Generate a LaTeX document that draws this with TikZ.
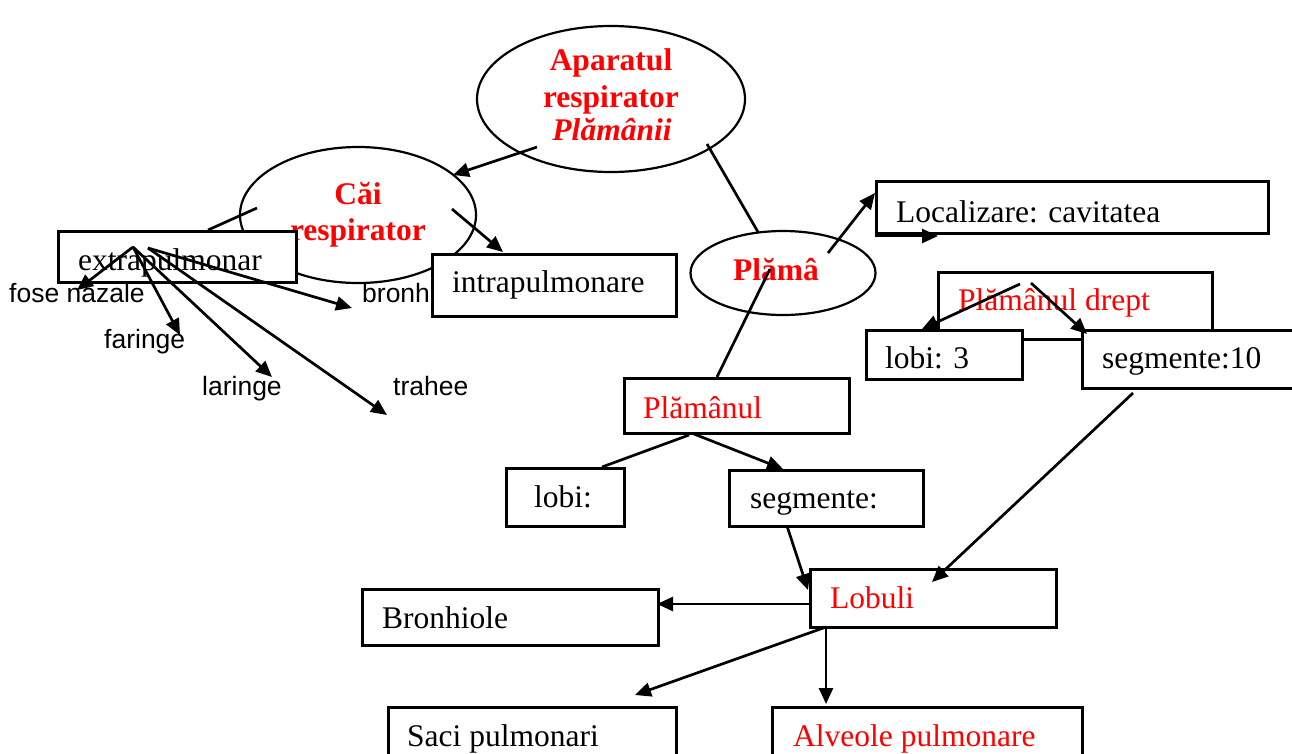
\documentclass[tikz,border=0pt]{standalone}
\usepackage{fontspec}
\setmainfont{Liberation Serif}
\newfontfamily\labelfont{Liberation Sans}
\usetikzlibrary{arrows.meta,shapes.geometric}
\definecolor{hdred}{RGB}{255,0,0}
\tikzset{
  box/.style={draw, line width=2.5pt, fill=white, rectangle, inner sep=0pt, anchor=north west},
  oval/.style={draw, line width=2.2pt, ellipse, inner sep=0pt},
  txt/.style={anchor=base west, inner sep=0pt, font=\fontsize{31.5}{36}\selectfont},
  redtxt/.style={txt, text=hdred},
  headtxt/.style={anchor=base, inner sep=0pt, text=hdred, font=\fontsize{31.5}{36}\selectfont\bfseries},
  lbl/.style={anchor=base west, inner sep=0pt, font=\labelfont\fontsize{26.5}{30}\selectfont},
  conn/.style={line width=2.7pt},
  arr/.style={conn, -{Triangle[length=16pt,width=14pt]}},
}
\begin{document}
\begin{tikzpicture}[x=1pt,y=-1pt]
  \useasboundingbox (0,0) rectangle (1292,753);
  \clip (0,0) rectangle (1292,753);
  \fill[white] (0,0) rectangle (1292,753);

  % --- ellipses -------------------------------------------------------
  \node[oval, minimum width=268pt, minimum height=146pt] (ap) at (611,99) {};
  \node[headtxt] (ap-t1) at (611,70) {Aparatul};
  \node[headtxt] (ap-t2) at (611,107) {respirator};
  \node[headtxt, font=\fontsize{31.5}{36}\selectfont\bfseries\itshape] (ap-t3) at (612,140) {Plămânii};

  \node[oval, minimum width=236pt, minimum height=136pt] (cai) at (358,215) {};
  \node[headtxt] (cai-t1) at (358,204) {Căi};
  \node[headtxt] (cai-t2) at (358,240) {respirator};

  \node[oval, minimum width=185pt, minimum height=84pt] (plama) at (783,273) {};
  \node[headtxt] (plama-t) at (776,280) {Plămâ};

  % --- airway labels ---------------------------------------------------
  \node[lbl] (fose) at (9,302) {fose nazale};
  \node[lbl] (faringe) at (104,348) {faringe};
  \node[lbl] (laringe) at (202,395) {laringe};
  \node[lbl] (trahee) at (393,395) {trahee};
  \node[lbl] (bronh) at (362,302) {bronh};

  % --- boxes --------------------------------------------------------------
  \node[box, minimum width=238pt, minimum height=51pt] (ext) at (57,230) {};
  \node[txt] (ext-t) at (78,270) {extrapulmonar};
  \node[box, minimum width=244pt, minimum height=62pt] (intra) at (431,253) {};
  \node[txt] (intra-t) at (452,292) {intrapulmonare};

  \node[box, minimum width=392pt, minimum height=52pt] (loc) at (875,180) {};
  \node[txt] (loc-t) at (896,222) {Localizare: cavitatea};

  \node[box, minimum width=274pt, minimum height=67pt] (drept) at (937,271) {};
  \node[redtxt] (drept-t) at (958,310) {Plămânul drept};
  \node[box, minimum width=156pt, minimum height=49pt] (lobi3) at (865,329) {};
  \node[txt] (lobi3-t) at (885,368) {lobi: 3};
  \node[box, minimum width=220pt, minimum height=58pt] (seg10) at (1081,329) {};
  \node[txt] (seg10-t) at (1102,368) {segmente:10};

  \node[box, minimum width=225pt, minimum height=55pt] (plam) at (623,377) {};
  \node[redtxt] (plam-t) at (643,418) {Plămânul};
  \node[box, minimum width=118pt, minimum height=58pt] (lobi) at (505,467) {};
  \node[txt] (lobi-t) at (534,507) {lobi:};
  \node[box, minimum width=194pt, minimum height=56pt] (seg) at (728,469) {};
  \node[txt] (seg-t) at (750,508) {segmente:};

  \node[box, minimum width=246pt, minimum height=58pt] (lobuli) at (809,568) {};
  \node[redtxt] (lobuli-t) at (830,608) {Lobuli};
  \node[box, minimum width=296pt, minimum height=56pt] (bronhiole) at (361,588) {};
  \node[txt] (bronhiole-t) at (382,628) {Bronhiole};
  \node[box, minimum width=288pt, minimum height=80pt] (saci) at (387,706) {};
  \node[txt] (saci-t) at (407,746) {Saci pulmonari};
  \node[box, minimum width=310pt, minimum height=80pt] (alv) at (771,706) {};
  \node[redtxt] (alv-t) at (793,746) {Alveole pulmonare};

  % --- connector end points -------------------------------------------------
  \coordinate (ap-a) at (537,147);   \coordinate (cai-in) at (453,175);
  \coordinate (ap-b) at (707,144);   \coordinate (plama-top) at (758,232);
  \coordinate (cai-a) at (257,208);  \coordinate (ext-top) at (208,230);
  \coordinate (cai-b) at (452,209);  \coordinate (intra-in) at (503,252);
  \coordinate (hub) at (133,247);    \coordinate (hub2) at (148,248);
  \coordinate (fose-tip) at (77,290);
  \coordinate (faringe-tip) at (180,335);
  \coordinate (laringe-tip) at (272,377);
  \coordinate (trahee-tip) at (387,415);
  \coordinate (bronh-tip) at (352,308);
  \coordinate (plama-a) at (828,253); \coordinate (loc-in) at (875,193);
  \coordinate (loc-u1) at (875,236);  \coordinate (loc-u2) at (938,236);
  \coordinate (plama-b) at (770,269); \coordinate (plam-top) at (717,377);
  \coordinate (drept-a) at (1020,284); \coordinate (lobi3-in) at (922,329);
  \coordinate (drept-b) at (1031,283); \coordinate (seg10-in) at (1087,334);
  \coordinate (seg10-a) at (1133,393); \coordinate (lobuli-in) at (932,582);
  \coordinate (plam-a) at (689,435);  \coordinate (lobi-top) at (602,467);
  \coordinate (plam-b) at (694,434);  \coordinate (seg-top) at (783,469);
  \coordinate (seg-a) at (787,526);   \coordinate (lobuli-top) at (808,590);
  \coordinate (lobuli-a) at (809,604); \coordinate (bronhiole-in) at (657,604);
  \coordinate (lobuli-b) at (826,627); \coordinate (saci-in) at (635,695);
  \coordinate (alv-in) at (826,704);

  % --- connectors ----------------------------------------------------------
  \draw[arr] (ap-a) -- (cai-in);
  \draw[conn] (ap-b) -- (plama-top);
  \draw[conn] (cai-a) -- (ext-top);
  \draw[arr] (cai-b) -- (intra-in);
  \draw[arr] (hub) -- (fose-tip);
  \draw[arr] (hub) -- (faringe-tip);
  \draw[arr] (hub) -- (laringe-tip);
  \draw[arr] (hub2) -- (trahee-tip);
  \draw[arr] (hub2) -- (bronh-tip);
  \draw[arr] (plama-a) -- (loc-in);
  \draw[arr] (loc-u1) -- (loc-u2);
  \draw[conn] (plama-b) -- (plam-top);
  \draw[arr] (drept-a) -- (lobi3-in);
  \draw[arr] (drept-b) -- (seg10-in);
  \draw[arr] (seg10-a) -- (lobuli-in);
  \draw[conn] (plam-a) -- (lobi-top);
  \draw[arr] (plam-b) -- (seg-top);
  \draw[arr] (seg-a) -- (lobuli-top);
  \draw[arr] (lobuli-a) -- (bronhiole-in);
  \draw[arr] (lobuli-b) -- (saci-in);
  \draw[arr] (lobuli-b) -- (alv-in);
\end{tikzpicture}
\end{document}
